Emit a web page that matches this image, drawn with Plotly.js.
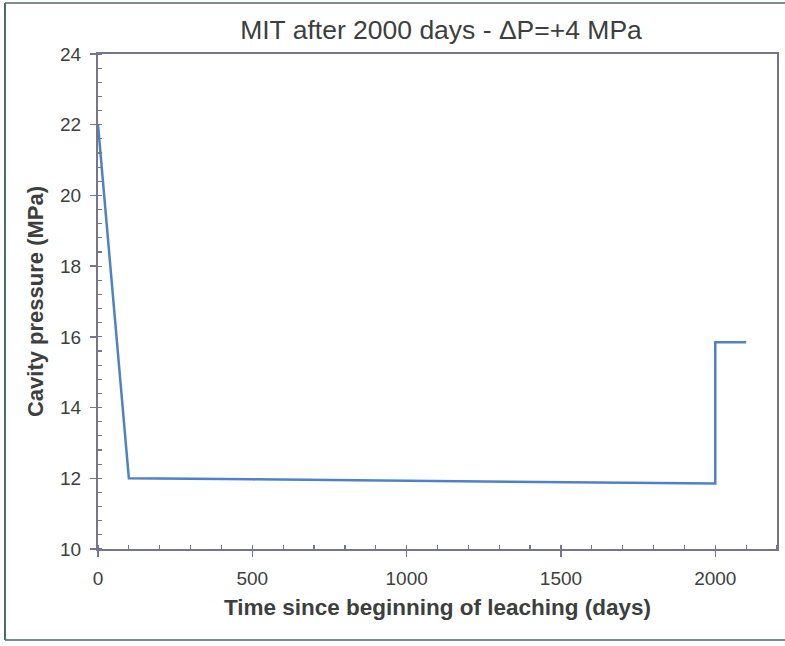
<!DOCTYPE html>
<html>
<head>
<meta charset="utf-8">
<script src="https://cdn.plot.ly/plotly-3.0.1.min.js"></script>
<style>
  html, body { margin: 0; padding: 0; background: #ffffff; }
  #chart { width: 785px; height: 646px; }
</style>
</head>
<body>
<div id="chart"></div>
<script>
// Cavity pressure history: fast leaching drop, long plateau, then the +4 MPa step at 2000 days
const timeDays = [0, 100, 500, 1000, 1500, 2000, 2000, 2100];
const pressureMPa = [22.0, 12.0, 11.97, 11.93, 11.89, 11.85, 15.85, 15.85];

const xTickVals = [0, 500, 1000, 1500, 2000];
const yTickVals = [10, 12, 14, 16, 18, 20, 22, 24];

const axisColor = '#77758a';
const textColor = '#3c3f3e';
const frameColor = '#4d6b62';
const fontFamily = 'Liberation Sans, Arial, sans-serif';

const trace = {
  x: timeDays,
  y: pressureMPa,
  type: 'scatter',
  mode: 'lines',
  line: { color: '#4f81c9', width: 2.5 },
  hoverinfo: 'x+y'
};

const layout = {
  width: 785,
  height: 646,
  margin: { l: 98, r: 8, t: 54, b: 97 },
  paper_bgcolor: '#ffffff',
  plot_bgcolor: '#ffffff',
  showlegend: false,
  title: {
    text: 'MIT after 2000 days - \u0394P=+4 MPa',
    font: { family: fontFamily, size: 26.5, color: textColor },
    xref: 'container', yref: 'container',
    x: 441 / 785, y: 1 - 30 / 646,
    xanchor: 'center', yanchor: 'middle'
  },
  xaxis: {
    range: [0, 2200],
    tickmode: 'array',
    tickvals: xTickVals,
    ticktext: xTickVals.map(String),
    ticks: 'outside',
    ticklen: 6,
    tickwidth: 1.5,
    tickcolor: axisColor,
    ticklabelstandoff: 5,
    minor: { dtick: 100, ticks: 'inside', ticklen: 4, tickcolor: axisColor, tickwidth: 1.2, showgrid: false },
    showgrid: false,
    zeroline: false,
    showline: true,
    linecolor: axisColor,
    linewidth: 2,
    mirror: true,
    tickfont: { family: fontFamily, size: 19, color: textColor },
    title: {
      text: '<b>Time since beginning of leaching (days)</b>',
      font: { family: fontFamily, size: 22.5, color: textColor },
      standoff: 11
    }
  },
  yaxis: {
    range: [10, 24],
    tickmode: 'array',
    tickvals: yTickVals,
    ticktext: yTickVals.map(String),
    ticks: 'outside',
    ticklen: 6,
    tickwidth: 1.5,
    tickcolor: axisColor,
    ticklabelstandoff: 5,
    minor: { dtick: 0.4, ticks: 'inside', ticklen: 4, tickcolor: axisColor, tickwidth: 1.2, showgrid: false },
    showgrid: false,
    zeroline: false,
    showline: true,
    linecolor: axisColor,
    linewidth: 2,
    mirror: true,
    tickfont: { family: fontFamily, size: 19, color: textColor },
    title: {
      text: '<b>Cavity pressure (MPa)</b>',
      font: { family: fontFamily, size: 22, color: textColor },
      standoff: 10
    }
  },
  // outer chart frame (left, top and bottom edges)
  shapes: [
    { type: 'line', xref: 'paper', yref: 'paper', x0: -0.137, x1: -0.137, y0: -0.184, y1: 1.103,
      line: { color: frameColor, width: 2 } },
    { type: 'line', xref: 'paper', yref: 'paper', x0: -0.137, x1: 1.02, y0: 1.103, y1: 1.103,
      line: { color: frameColor, width: 1.5 } },
    { type: 'line', xref: 'paper', yref: 'paper', x0: -0.137, x1: 1.02, y0: -0.184, y1: -0.184,
      line: { color: frameColor, width: 1.5 } }
  ]
};

Plotly.newPlot('chart', [trace], layout, { displayModeBar: false, staticPlot: true });
</script>
</body>
</html>
